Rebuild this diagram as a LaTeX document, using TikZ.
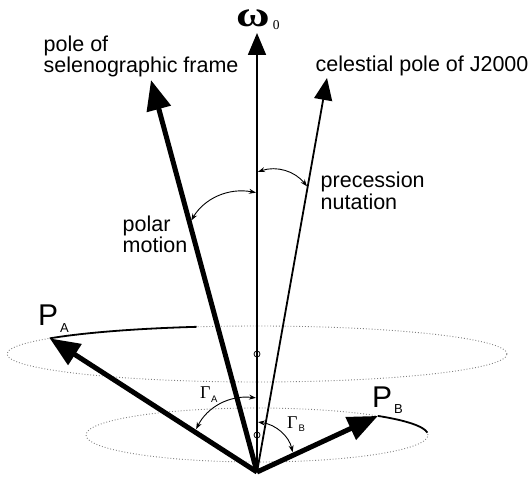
\documentclass[tikz,border=0pt]{standalone}
\usepackage{fontspec}
\setmainfont{Liberation Sans}
\newfontfamily\greekserif{Liberation Serif}
\usetikzlibrary{arrows.meta,calc}
\begin{document}
\begin{tikzpicture}[x=1pt,y=1pt,
  lbl/.style={inner sep=0pt, anchor=base west, font=\fontsize{21.5}{24}\selectfont},
  lbltwo/.style={inner sep=0pt, anchor=north west, align=left},
  sym/.style={inner sep=0pt, anchor=base west},
  thickvec/.style={line width=5pt, -{Triangle[length=30pt,width=24pt]}},
  thinvec/.style={line width=1.8pt, -{Triangle[length=22pt,width=18pt]}},
  anglearc/.style={line width=0.9pt, {Stealth[length=7pt,width=5pt]}-{Stealth[length=7pt,width=5pt]}, bend left=35},
  orbit/.style={gray, dotted, line width=0.9pt},
  track/.style={line width=1.8pt},
  marker/.style={draw, circle, line width=0.8pt, minimum size=6pt, inner sep=0pt}
]
\useasboundingbox (0,0) rectangle (532,477);

% key points
\coordinate (O) at (257,5);
\coordinate (W) at (257,444);
\coordinate (S) at (151,397);
\coordinate (C) at (327,399);
\coordinate (UC) at (257,123);
\coordinate (LC) at (257,42);
\coordinate (PA) at ($(UC)+(146:250pt and 28pt)$);
\coordinate (PB) at ($(LC)+(45:171pt and 27pt)$);

% orbits
\draw[orbit] (UC) ellipse[x radius=250pt, y radius=28pt];
\draw[orbit] (LC) ellipse[x radius=171pt, y radius=27pt];
\draw[track] (PA) arc[start angle=146, end angle=104, x radius=250pt, y radius=28pt];
\draw[track] (PB) arc[start angle=45, end angle=5, x radius=171pt, y radius=27pt];

% vectors
\draw[thinvec] (O) -- (W);
\draw[thinvec] (O) -- (C);
\draw[thickvec] (O) -- (S);
\draw[thickvec] (O) -- (PA);
\draw[thickvec] (O) -- (PB);

% centre markers
\node[marker] (m1) at (UC) {};
\node[marker] (m2) at (LC) {};

% angle arcs
\coordinate (pm1) at ($(O)!0.635!(S)$);
\coordinate (pm2) at ($(O)!0.636!(W)$);
\coordinate (pn1) at ($(O)!0.683!(W)$);
\coordinate (pn2) at ($(O)!0.723!(C)$);
\coordinate (ga1) at ($(O)!0.30!(PA)$);
\coordinate (ga2) at ($(O)!0.1686!(W)$);
\coordinate (gb1) at ($(O)!0.114!(W)$);
\coordinate (gb2) at ($(O)!0.30!(PB)$);
\draw[anglearc, shorten <=3pt, shorten >=1pt] (pm1) to (pm2);
\draw[anglearc, shorten <=1pt, shorten >=1pt] (pn1) to (pn2);
\draw[anglearc, shorten <=3pt, shorten >=1pt] (ga1) to (ga2);
\draw[anglearc, shorten <=1pt, shorten >=3pt] (gb1) to (gb2);

% labels
\node[sym] (omega) at (236,450) {\greekserif\bfseries\fontsize{34}{36}\selectfont \scalebox{1.35}[1.05]{ω}\kern3pt\raisebox{-3pt}{\mdseries\fontsize{13.5}{14}\selectfont 0}};
\node[lbl] (sel1) at (43.5,425) {pole of};
\node[lbl] (sel2) at (43.5,404) {selenographic frame};
\node[lbl] (cel) at (315.5,405) {celestial pole of J2000};
\node[lbl] (prec1) at (320.5,289) {precession};
\node[lbl] (prec2) at (320.5,267) {nutation};
\node[lbltwo, font=\fontsize{21.5}{19}\selectfont] (pol) at (122.5,261) {polar\\motion};
\node[sym] (pa) at (38,152) {\fontsize{30}{32}\selectfont P\kern2pt\raisebox{-7pt}{\fontsize{13}{13}\selectfont A}};
\node[sym] (pb) at (372,70) {\fontsize{30}{32}\selectfont P\kern2pt\raisebox{-6pt}{\fontsize{13}{13}\selectfont B}};
\node[sym] (gA) at (200,79) {\greekserif\fontsize{18}{18}\selectfont Γ\kern0.5pt\raisebox{-4pt}{\rmfamily\fontsize{9.5}{10}\selectfont A}};
\node[sym] (gB) at (287,49) {\greekserif\fontsize{18}{18}\selectfont Γ\kern1pt\raisebox{-3pt}{\rmfamily\fontsize{9.5}{10}\selectfont B}};
\end{tikzpicture}
\end{document}
